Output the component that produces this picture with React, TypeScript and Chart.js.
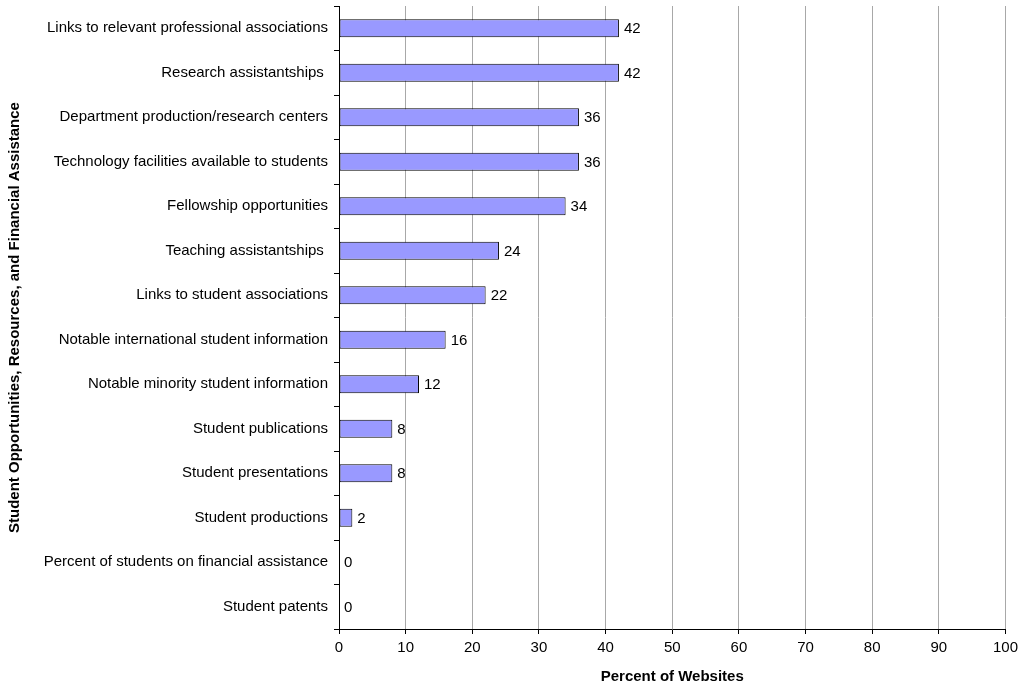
import React, { useEffect, useRef } from "react";
import { Chart, registerables } from "chart.js";

Chart.register(...registerables);

const categories = [
  "Links to relevant professional associations",
  "Research assistantships ",
  "Department production/research centers",
  "Technology facilities available to students",
  "Fellowship opportunities",
  "Teaching assistantships ",
  "Links to student associations",
  "Notable international student information",
  "Notable minority student information",
  "Student publications",
  "Student presentations",
  "Student productions",
  "Percent of students on financial assistance",
  "Student patents",
];

const percentValues = [42, 42, 36, 36, 34, 24, 22, 16, 12, 8, 8, 2, 0, 0];

const xTicks = [0, 10, 20, 30, 40, 50, 60, 70, 80, 90, 100];

const FONT = "Arial, 'Liberation Sans', Helvetica, sans-serif";

// Writes each bar's value just past its right end.
const valueLabels = {
  id: "valueLabels",
  afterDatasetsDraw(chart: any) {
    const ctx = chart.ctx;
    const meta = chart.getDatasetMeta(0);
    ctx.save();
    ctx.font = `15px ${FONT}`;
    ctx.fillStyle = "#000";
    ctx.textBaseline = "middle";
    ctx.textAlign = "left";
    meta.data.forEach((bar: any, i: number) => {
      const v = chart.data.datasets[0].data[i];
      ctx.fillText(String(v), bar.x + 5, bar.y + 1);
    });
    ctx.restore();
  },
};

export default function App() {
  const canvasRef = useRef<HTMLCanvasElement>(null);

  useEffect(() => {
    const chart = new Chart(canvasRef.current!, {
      type: "bar",
      data: {
        labels: categories,
        datasets: [
          {
            data: percentValues,
            backgroundColor: "#9999FF",
            borderColor: "#000000",
            borderWidth: 1,
            borderSkipped: false,
            barPercentage: 0.41,
            categoryPercentage: 1,
          },
        ],
      },
      options: {
        indexAxis: "y",
        responsive: false,
        animation: false,
        layout: { padding: { top: 6, right: 17, left: 0, bottom: 0 } },
        plugins: {
          legend: { display: false },
          tooltip: { enabled: false },
        },
        scales: {
          x: {
            min: 0,
            max: 100,
            afterBuildTicks: (scale: any) => {
              scale.ticks = xTicks.map((v) => ({ value: v }));
            },
            afterFit: (scale: any) => {
              scale.height = 61;
            },
            ticks: {
              color: "#000",
              font: { family: FONT, size: 15 },
              padding: 5,
              maxRotation: 0,
            },
            grid: {
              color: "#a8a8a8",
              lineWidth: 1,
              tickColor: "#000",
              tickLength: 5,
            },
            border: { color: "#000", width: 1 },
            title: {
              display: true,
              text: "Percent of Websites",
              color: "#000",
              font: { family: FONT, size: 15, weight: "bold" },
              padding: { top: 0, bottom: 4 },
            },
          },
          y: {
            afterFit: (scale: any) => {
              scale.width = 339;
              scale.paddingTop = 0;
              scale.paddingBottom = 0;
            },
            ticks: {
              color: "#000",
              font: { family: FONT, size: 15 },
              padding: 6,
              autoSkip: false,
            },
            grid: {
              offset: true,
              drawOnChartArea: false,
              tickColor: "#000",
              tickLength: 5,
            },
            border: { color: "#000", width: 1 },
            title: {
              display: true,
              text: "Student Opportunities, Resources, and Financial Assistance",
              color: "#000",
              font: { family: FONT, size: 15, weight: "bold" },
              padding: { top: 6, bottom: 6 },
            },
          },
        },
      },
      plugins: [valueLabels],
    } as any);
    return () => chart.destroy();
  }, []);

  return (
    <div style={{ position: "fixed", left: 0, top: 0, width: 1023, height: 690, background: "#fff" }}>
      <canvas ref={canvasRef} width={1023} height={690} />
    </div>
  );
}
